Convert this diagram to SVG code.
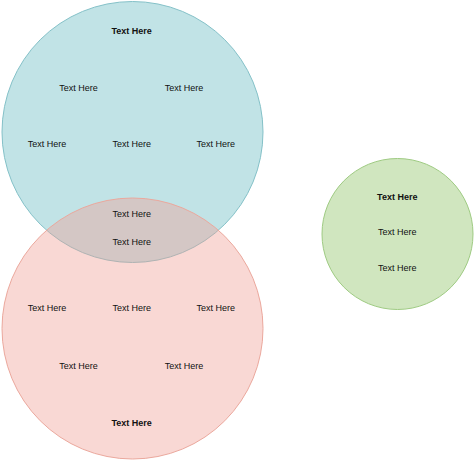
<svg xmlns="http://www.w3.org/2000/svg" width="474" height="460" viewBox="0 0 474 460">
<style>
text{font-family:"Liberation Sans",Arial,sans-serif;font-size:9px;fill:#111;text-anchor:middle;dominant-baseline:central}
.b{font-weight:bold}
</style>
<rect width="474" height="460" fill="#fff"/>
<g id="blue">
<circle cx="132.5" cy="132" r="130.5" fill="#c1e3e6" stroke="#84c1c8" stroke-width="1"/>
</g>
<g id="red">
<circle cx="132.5" cy="328.5" r="130.5" fill="#f09e94" fill-opacity="0.4" stroke="#eba89d" stroke-width="1"/>
</g>
<g id="green">
<circle cx="397.5" cy="234" r="75.5" fill="#d0e6bf" stroke="#9fcb83" stroke-width="1"/>
</g>
<g id="blue-labels">
<text class="b" x="131.7" y="30.5">Text Here</text>
<text x="78.5" y="87.7">Text Here</text>
<text x="184" y="87.7">Text Here</text>
<text x="47" y="144.3">Text Here</text>
<text x="131.7" y="144.3">Text Here</text>
<text x="215.7" y="144.3">Text Here</text>
</g>
<g id="overlap-labels">
<text x="131.7" y="213.7">Text Here</text>
<text x="131.7" y="242.3">Text Here</text>
</g>
<g id="red-labels">
<text x="47" y="308.3">Text Here</text>
<text x="131.7" y="308.3">Text Here</text>
<text x="215.7" y="308.3">Text Here</text>
<text x="78.5" y="366.3">Text Here</text>
<text x="184" y="366.3">Text Here</text>
<text class="b" x="131.7" y="423.3">Text Here</text>
</g>
<g id="green-labels">
<text class="b" x="397.3" y="196.7">Text Here</text>
<text x="397.3" y="232.3">Text Here</text>
<text x="397.3" y="268">Text Here</text>
</g>
<g id="connectors"/>
</svg>
